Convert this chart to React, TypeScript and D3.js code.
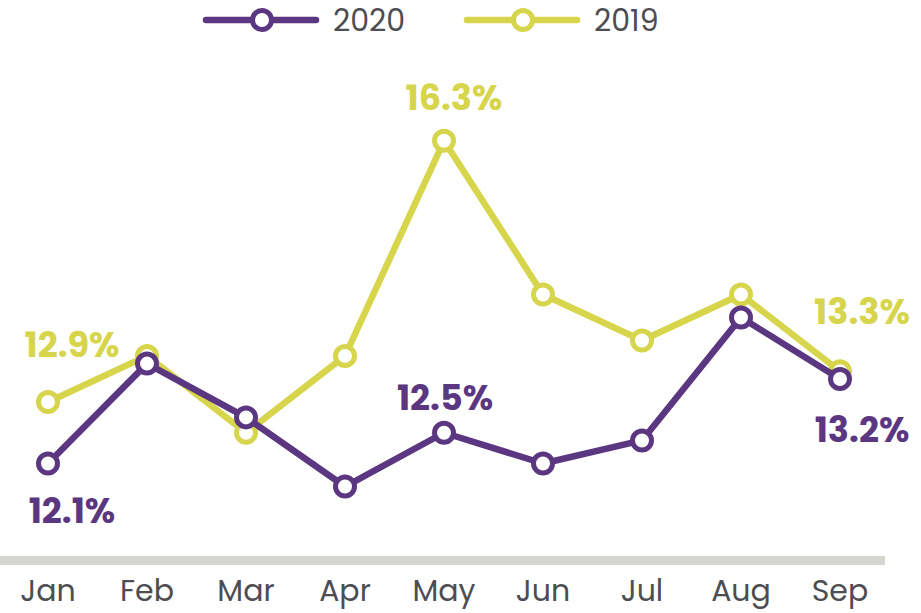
import React from 'react';
import * as d3 from 'd3';

const months = ['Jan', 'Feb', 'Mar', 'Apr', 'May', 'Jun', 'Jul', 'Aug', 'Sep'];
const values2020 = [12.1, 13.4, 12.7, 11.8, 12.5, 12.1, 12.4, 14.0, 13.2];
const values2019 = [12.9, 13.5, 12.5, 13.5, 16.3, 14.3, 13.7, 14.3, 13.3];
const seriesNames = ['2020', '2019'];

// which points get a value label, and where it sits relative to the point
const annotations = [
  { series: 0, index: 0, dx: 24, dy: 60 },
  { series: 0, index: 4, dx: 1, dy: -23 },
  { series: 0, index: 8, dx: 22, dy: 63 },
  { series: 1, index: 0, dx: 24, dy: -45 },
  { series: 1, index: 4, dx: 10, dy: -31 },
  { series: 1, index: 8, dx: 22, dy: -47 },
];

const W = 921;
const H = 613;
const PURPLE = '#5c3781';
const YELLOW = '#d6d54b';
const TEXT = '#4d4d52';
const FONT = "'Poppins', 'Open Sans', sans-serif";

export default function App() {
  const x = d3.scalePoint<string>().domain(months).range([48, 840]);
  const y = d3.scaleLinear().domain([11, 17]).range([548, 87]);

  const series = [
    { name: seriesNames[0], values: values2020, color: PURPLE },
    { name: seriesNames[1], values: values2019, color: YELLOW },
  ];

  const line = d3
    .line<number>()
    .x((_, i) => x(months[i]) as number)
    .y((d) => y(d));

  // draw 2019 underneath 2020
  const drawOrder = [1, 0];
  const legendX = [206, 467];

  return (
    <svg width={W} height={H} style={{ position: 'absolute', left: 0, top: 0 }} fontFamily={FONT}>
      <rect width={W} height={H} fill="#fff" />

      {/* legend */}
      {series.map((s, i) => (
        <g key={s.name} transform={`translate(${legendX[i]},20)`}>
          <line x1={0} x2={110} y1={0} y2={0} stroke={s.color} strokeWidth={6.5} strokeLinecap="round" />
          <circle cx={56} cy={0} r={9.5} fill="#fff" stroke={s.color} strokeWidth={5} />
          <text x={127} y={11} fontSize={30} fill={TEXT}>{s.name}</text>
        </g>
      ))}

      {/* baseline */}
      <rect x={0} y={556} width={885} height={9} fill="#d6d5cf" />

      {/* month labels */}
      {months.map((m) => (
        <text key={m} x={x(m)} y={601} textAnchor="middle" fontSize={30} fill={TEXT}>
          {m}
        </text>
      ))}

      {drawOrder.map((si) => {
        const s = series[si];
        return (
          <g key={s.name}>
            <path d={line(s.values) || ''} fill="none" stroke={s.color} strokeWidth={6.5} strokeLinejoin="round" />
            {s.values.map((v, i) => (
              <circle key={i} cx={x(months[i])} cy={y(v)} r={9.5} fill="#fff" stroke={s.color} strokeWidth={5} />
            ))}
          </g>
        );
      })}

      {/* value labels */}
      {annotations.map((a, k) => {
        const s = series[a.series];
        const v = s.values[a.index];
        return (
          <text
            key={k}
            x={(x(months[a.index]) as number) + a.dx}
            y={y(v) + a.dy}
            textAnchor="middle"
            fontSize={35}
            fontWeight={700}
            fill={s.color}
          >
            {v.toFixed(1)}%
          </text>
        );
      })}
    </svg>
  );
}
